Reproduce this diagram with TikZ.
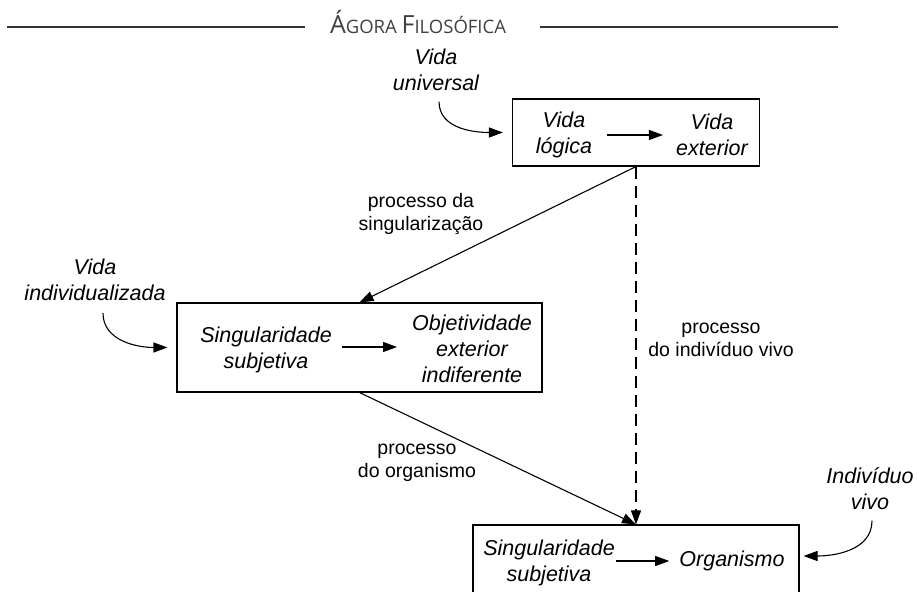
\documentclass[tikz,border=0pt]{standalone}
\usepackage{fontspec}
\setmainfont{Liberation Sans}
\newfontfamily\headfont{Open Sans}
\usetikzlibrary{arrows.meta}

\begin{document}
\begin{tikzpicture}[x=1pt, y=-1pt]
\tikzstyle{box}=[draw, rectangle, line width=1.1pt, inner sep=0]
\tikzstyle{txt}=[align=center, inner sep=0, text=black, font=\fontsize{21.5}{26}\selectfont\itshape]
\tikzstyle{lbl}=[align=center, inner sep=0, text=black, font=\fontsize{19.5}{23}\selectfont]
\tikzstyle{link}=[draw, -{Triangle[length=14pt, width=10pt]}, line width=1.1pt]
\tikzstyle{dlink}=[link, dash pattern=on 12pt off 7pt]
\tikzstyle{rule}=[draw, line width=2pt, black!80]

\useasboundingbox (0,0) rectangle (917,591);

% header
\node[inner sep=0, anchor=base, text=black!75]	(title) at	(418,34)
	{\headfont\fontsize{25}{25}\selectfont Á\fontsize{18.5}{18.5}\selectfont GORA \fontsize{25}{25}\selectfont F\fontsize{18.5}{18.5}\selectfont ILOSÓFICA};
\coordinate	(hl) at	(7,27);
\coordinate	(hr) at	(838,27);
\path[rule] (hl) -- (305,27);
\path[rule] (540,27) -- (hr);

% boxes
\node[box, minimum width=247, minimum height=67]	(topbox) at	(636,132.5)	{};
\node[box, minimum width=365, minimum height=89]	(midbox) at	(359.5,347.5)	{};
\node[box, minimum width=326, minimum height=80]	(botbox) at	(636,565)	{};

\node[txt]	(logica) at		(564,135)	{Vida\\lógica};
\node[txt]	(exterior) at	(712,135)	{Vida\\exterior};
\node[txt]	(singmid) at	(266,350)	{Singularidade\\subjetiva};
\node[txt]	(objmid) at		(472,348.5)	{Objetividade\\exterior\\indiferente};
\node[txt]	(singbot) at	(549,562.5)	{Singularidade\\subjetiva};
\node[txt]	(organismo) at	(732,561)	{Organismo};

% outer labels
\node[txt]	(vuniv) at		(436,69.5)	{Vida\\universal};
\node[txt]	(vindiv) at		(95,280)	{Vida\\individualizada};
\node[txt]	(indviv) at		(870,488.5)	{Indivíduo\\vivo};

\node[lbl]	(lsing) at		(421,214)	{processo da\\singularização};
\node[lbl]	(lorg) at		(417,462.5)	{processo\\do organismo};
\node[lbl]	(lindiv) at		(721,339.5)	{processo\\do indivíduo vivo};

% inner arrows
\path[link] ([xshift=15pt]logica.east) -- ([xshift=-13pt]exterior.west);
\path[link] ([xshift=10pt, yshift=3pt]singmid.east) -- ([xshift=-15pt, yshift=1.5pt]objmid.west);
\path[link] ([xshift=1pt, yshift=1.5pt]singbot.east) -- ([xshift=-10pt]organismo.west);

% incoming curves
\path[link] ([xshift=3pt, yshift=-11pt]vuniv.south) to[out=-90, in=180] ([xshift=-9pt]topbox.west);
\path[link] ([xshift=8pt, yshift=-12pt]vindiv.south) to[out=-90, in=180] ([xshift=-9pt]midbox.west);
\path[link] ([xshift=2pt, yshift=-11pt]indviv.south) to[out=-90, in=0] ([xshift=4pt, yshift=9pt]botbox.east);

% processes
\path[link] (topbox.south) -- (midbox.north);
\path[link] (midbox.south) -- (botbox.north);
\path[dlink] (topbox.south) -- (botbox.north);

\end{tikzpicture}
\end{document}
